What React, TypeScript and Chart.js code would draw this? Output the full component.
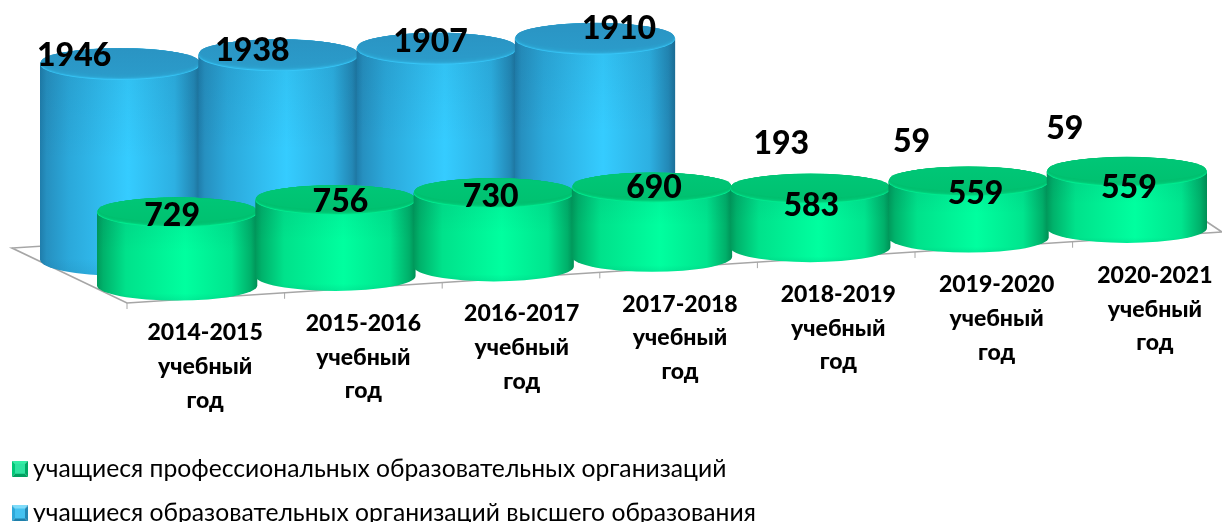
import React, { useEffect, useRef } from "react";
import { Chart, registerables } from "chart.js";

Chart.register(...registerables);

const categories = [
  ["2014-2015", "учебный", "год"],
  ["2015-2016", "учебный", "год"],
  ["2016-2017", "учебный", "год"],
  ["2017-2018", "учебный", "год"],
  ["2018-2019", "учебный", "год"],
  ["2019-2020", "учебный", "год"],
  ["2020-2021", "учебный", "год"],
];
const vocationalStudents = [729, 756, 730, 690, 583, 559, 559];
const higherEdStudents = [1946, 1938, 1907, 1910, 193, 59, 59];
const vocationalName = "учащиеся профессиональных образовательных организаций";
const higherEdName = "учащиеся образовательных организаций высшего образования";

// Look of the pseudo-3D drawing
const FONT = "Lato, 'Open Sans', sans-serif";
const SKEW = -9.6 / 158.3; // the floor rises to the right
const DEPTH = [
  { dx: 0, dy: 0, ry: 15 },
  { dx: -57, dy: -26, ry: 16 },
];
const PALETTE = [
  {
    side: [
      [0, "#00995b"],
      [0.04, "#00b26b"],
      [0.18, "#00e28b"],
      [0.55, "#00ff9f"],
      [0.84, "#00e58e"],
      [0.96, "#00b06a"],
      [1, "#008f55"],
    ],
    cap: "#00c06f",
    capBack: "#00c777",
    rim: "#00ec90",
  },
  {
    side: [
      [0, "#1f7dab"],
      [0.04, "#2690c0"],
      [0.18, "#2ba8da"],
      [0.55, "#35ccff"],
      [0.84, "#2db0e2"],
      [0.96, "#2388b6"],
      [1, "#1c6f98"],
    ],
    cap: "#2b9ccb",
    capBack: "#2a94c3",
    rim: "#37c6f7",
  },
];
// hand-placed value labels, relative to the top of their bar
const LABEL_SHIFT = [
  [[-5, 3], [5, 2], [-3, 4], [2, 0], [1, 17], [7, 12], [2, 16]],
  [[-46, -8], [-26, -4], [-6, -7], [24, -10], [28, -58], [0, -64], [-5, -67]],
];

function cylinder(ctx: CanvasRenderingContext2D, cx: number, top: number, base: number, rx: number, ry: number, p: any) {
  const side = new Path2D();
  side.moveTo(cx - rx, top);
  side.lineTo(cx - rx, base);
  side.ellipse(cx, base, rx, ry, 0, Math.PI, 0, true);
  side.lineTo(cx + rx, top);
  side.closePath();
  const g = ctx.createLinearGradient(cx - rx, 0, cx + rx, 0);
  p.side.forEach(([o, c]: any) => g.addColorStop(o, c));
  ctx.fillStyle = g;
  ctx.fill(side);
  const v = ctx.createLinearGradient(0, top, 0, base + ry);
  v.addColorStop(0, "rgba(0,40,60,0.07)");
  v.addColorStop(0.45, "rgba(0,40,60,0)");
  v.addColorStop(0.92, "rgba(0,40,60,0)");
  v.addColorStop(1, "rgba(0,40,60,0.08)");
  ctx.fillStyle = v;
  ctx.fill(side);

  // soft lit rim: the cap shades from the lit front edge into its flat colour
  const n = 6;
  for (let s = 0; s <= n; s++) {
    const t = s / n;
    ctx.globalAlpha = s === 0 ? 1 : 0.55;
    ctx.fillStyle = s === 0 ? p.rim : p.cap;
    ctx.beginPath();
    ctx.ellipse(cx, top - t * 2.5, rx - t * 1.5, ry - t * 3, 0, 0, Math.PI * 2);
    ctx.fill();
  }
  ctx.globalAlpha = 1;
  const c = ctx.createLinearGradient(0, top - ry, 0, top + ry);
  c.addColorStop(0, p.capBack);
  c.addColorStop(1, p.cap);
  ctx.fillStyle = c;
  ctx.beginPath();
  ctx.ellipse(cx, top - 2.5, rx - 1.5, ry - 3, 0, 0, Math.PI * 2);
  ctx.fill();
}

const cylinders = {
  id: "cylinders",
  beforeDatasetsDraw(chart: any) {
    // floor of the chart
    const { ctx } = chart;
    const x = chart.scales.x;
    const step = x.getPixelForValue(1) - x.getPixelForValue(0);
    const left = x.getPixelForValue(0) - step / 2 + 29;
    const floorY = (px: number) => 303 - 0.0648 * (px - left);
    ctx.save();
    ctx.strokeStyle = "#a6a6a6";
    ctx.lineWidth = 1.6;
    ctx.beginPath();
    ctx.moveTo(60, 245);
    ctx.lineTo(12, 248);
    ctx.lineTo(left, floorY(left));
    ctx.lineTo(1222, floorY(1222));
    ctx.lineTo(1204, 220);
    ctx.stroke();
    ctx.lineWidth = 1;
    for (let i = 0; i < 7; i++) {
      const px = left + i * 157.6;
      ctx.beginPath();
      ctx.moveTo(px, floorY(px));
      ctx.lineTo(px, floorY(px) + 6);
      ctx.stroke();
    }
    ctx.restore();
  },
  beforeDatasetDraw(chart: any, args: any) {
    const { ctx } = chart;
    const i = args.index;
    const d = DEPTH[i];
    const origin = chart.scales.x.getPixelForValue(0);
    const bars = chart.getDatasetMeta(i).data;
    ctx.save();
    bars.forEach((el: any) => {
      const skew = SKEW * (el.x - origin);
      cylinder(ctx, el.x + d.dx, el.y + d.dy + skew, el.base + d.dy + skew, el.width / 2 + 1, d.ry, PALETTE[i]);
    });
    ctx.restore();
    return false;
  },
  afterDatasetsDraw(chart: any) {
    const { ctx } = chart;
    const origin = chart.scales.x.getPixelForValue(0);
    ctx.save();
    ctx.fillStyle = "#000";
    ctx.textAlign = "center";
    ctx.textBaseline = "middle";
    ctx.font = `900 32px ${FONT}`;
    [1, 0].forEach((ds) => {
      const d = DEPTH[ds];
      chart.getDatasetMeta(ds).data.forEach((el: any, i: number) => {
        const skew = SKEW * (el.x - origin);
        const [sx, sy] = LABEL_SHIFT[ds][i];
        ctx.fillText(String(chart.data.datasets[ds].data[i]), el.x + d.dx + sx, el.y + d.dy + skew + sy);
      });
    });
    ctx.font = `900 23px ${FONT}`;
    chart.data.labels.forEach((lines: string[], i: number) => {
      const px = chart.scales.x.getPixelForValue(i);
      const y0 = 333 + SKEW * (px - origin);
      lines.forEach((t, n) => ctx.fillText(t, px + 28, y0 + n * 33.7));
    });
    ctx.restore();
  },
  afterLayout(chart: any) {
    const l = chart.legend;
    if (l) {
      l.left = -0.65;
      l.right = 1222;
      l.top = 436.4;
      l.bottom = 522;
    }
  },
};

function bevel(colors: string[]) {
  const size = 16;
  const e = 3;
  const c = document.createElement("canvas");
  c.width = size;
  c.height = size;
  const g = c.getContext("2d")!;
  const poly = (pts: number[], col: string) => {
    g.fillStyle = col;
    g.beginPath();
    g.moveTo(pts[0], pts[1]);
    g.lineTo(pts[2], pts[3]);
    g.lineTo(pts[4], pts[5]);
    g.lineTo(pts[6], pts[7]);
    g.closePath();
    g.fill();
  };
  const f = size - e;
  poly([0, 0, size, 0, f, e, e, e], colors[0]);
  poly([0, 0, e, e, e, f, 0, size], colors[1]);
  poly([size, 0, size, size, f, f, f, e], colors[2]);
  poly([0, size, size, size, f, f, e, f], colors[3]);
  g.fillStyle = colors[4];
  g.fillRect(e, e, size - 2 * e, size - 2 * e);
  return c;
}

export default function App() {
  const ref = useRef<HTMLCanvasElement>(null);
  useEffect(() => {
    document.body.style.margin = "0";
    const chart = new Chart(ref.current!, {
      type: "bar",
      data: {
        labels: categories as any,
        datasets: [
          { label: vocationalName, data: vocationalStudents, backgroundColor: "#00e68a", order: 1 },
          { label: higherEdName, data: higherEdStudents, backgroundColor: "#33bfee", order: 2 },
        ],
      },
      options: {
        responsive: false,
        animation: false,
        layout: { padding: { left: 98, right: 16, top: 4, bottom: 137 } },
        scales: {
          x: { display: false, stacked: false },
          y: { display: false, min: 0, max: 2800 },
        },
        datasets: { bar: { grouped: false, barPercentage: 1, categoryPercentage: 1 } },
        plugins: {
          tooltip: { enabled: false },
          legend: {
            position: "bottom",
            align: "start",
            labels: {
              color: "#111",
              font: { family: FONT, size: 24.7 },
              padding: 20,
              boxWidth: 1.3,
              usePointStyle: true,
              generateLabels: () => [
                {
                  text: vocationalName,
                  datasetIndex: 0,
                  pointStyle: bevel(["#33eea5", "#00c878", "#00a864", "#00a060", "#2fe3a0"]) as any,
                  hidden: false,
                  lineWidth: 0,
                  strokeStyle: "transparent",
                  fillStyle: "#00e68a",
                },
                {
                  text: higherEdName,
                  datasetIndex: 1,
                  pointStyle: bevel(["#7fdcfa", "#2fa8d8", "#2388b5", "#1f80ab", "#45c2f0"]) as any,
                  hidden: false,
                  lineWidth: 0,
                  strokeStyle: "transparent",
                  fillStyle: "#33bfee",
                },
              ],
            },
          },
        },
      } as any,
      plugins: [cylinders as any],
    });
    return () => chart.destroy();
  }, []);
  return <canvas ref={ref} width={1222} height={522} style={{ display: "block" }} />;
}
